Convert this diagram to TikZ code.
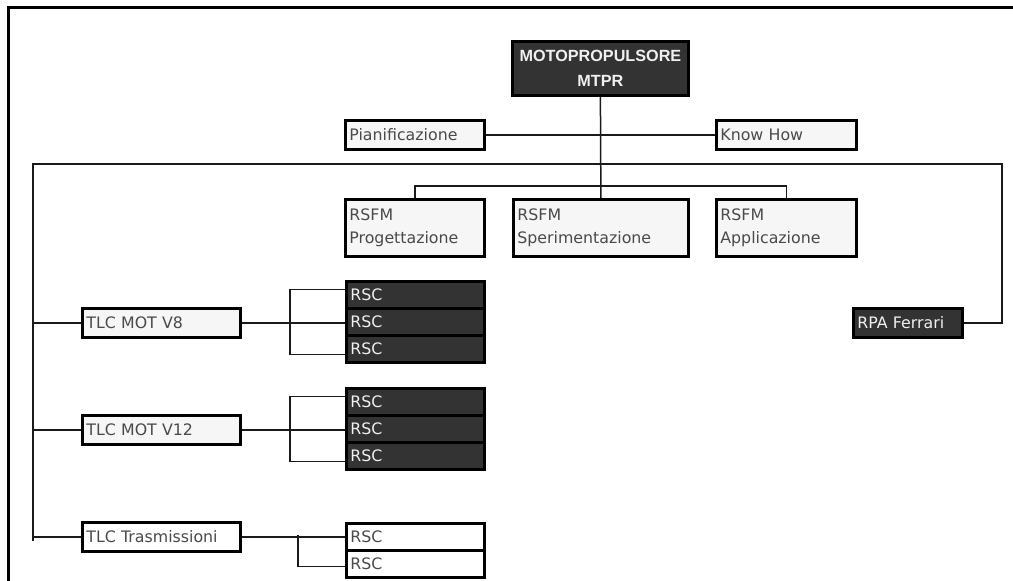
\documentclass[tikz,border=0pt]{standalone}
\usepackage{fontspec}
\setmainfont{DejaVu Sans}
\newfontfamily\headfont{Liberation Sans}
\definecolor{boxfill}{HTML}{F6F6F6}
\definecolor{boxtext}{HTML}{4A4A4A}
\definecolor{darkfill}{HTML}{333333}
\definecolor{darktext}{HTML}{F0F0F0}
\definecolor{linecol}{HTML}{1A1A1A}
\begin{document}
\begin{tikzpicture}[x=1pt,y=-1pt,
  box/.style={draw=black, line width=2.8pt, fill=boxfill, text=boxtext,
    anchor=north west, inner xsep=4pt, inner ysep=0pt, align=left,
    font=\fontsize{15.8}{23}\selectfont},
  darkbox/.style={box, fill=darkfill, text=darktext},
  whitebox/.style={box, fill=white},
  link/.style={draw=linecol, line width=1.5pt},
  frame/.style={draw=black, line width=3pt}]
\useasboundingbox (0,0) rectangle (1013,581);

% page frame
\coordinate (fb) at (8,590);
\coordinate (fc) at (8,7);
\coordinate (fr) at (1020,7);
\draw[frame] (fb) -- (fc) -- (fr);

% head of the unit
\node[darkbox, align=center, text width=168pt, minimum height=54pt,
  font=\headfont\bfseries\fontsize{16.2}{25}\selectfont] (top) at (511,40)
  {MOTOPROPULSORE\\MTPR};

% staff boxes
\node[box, text width=131pt, minimum height=29pt] (pian) at (344,119) {Pianificazione};
\node[box, text width=132pt, minimum height=29pt] (know) at (715,119) {Know How};

% RSFM row
\node[box, text width=131pt, minimum height=57pt] (rs1) at (344,198) {RSFM\\Progettazione};
\node[box, text width=167pt, minimum height=57pt] (rs2) at (512,198) {RSFM\\Sperimentazione};
\node[box, text width=132pt, minimum height=57pt] (rs3) at (715,198) {RSFM\\Applicazione};

% TLC boxes
\node[box, text width=150pt, minimum height=29pt] (v8) at (81,307) {TLC MOT V8};
\node[box, text width=150pt, minimum height=29pt] (v12) at (81,414) {TLC MOT V12};
\node[whitebox, text width=150pt, minimum height=29pt] (tr) at (81,521) {TLC Trasmissioni};

% RSC stacks
\node[darkbox, text width=130pt, minimum height=27pt] (a1) at (345,280) {RSC};
\node[darkbox, text width=130pt, minimum height=27pt] (a2) at (345,307) {RSC};
\node[darkbox, text width=130pt, minimum height=27pt] (a3) at (345,334) {RSC};
\node[darkbox, text width=130pt, minimum height=27pt] (b1) at (345,387) {RSC};
\node[darkbox, text width=130pt, minimum height=27pt] (b2) at (345,414) {RSC};
\node[darkbox, text width=130pt, minimum height=27pt] (b3) at (345,441) {RSC};
\node[whitebox, text width=130pt, minimum height=27pt] (c1) at (345,522) {RSC};
\node[whitebox, text width=130pt, minimum height=27pt] (c2) at (345,549) {RSC};

% RPA
\node[darkbox, text width=101pt, minimum height=29pt] (rpa) at (852,307) {RPA Ferrari};

% connectors
\draw[link] (top.south) -- (rs2.north);
\draw[link] (pian.east) -- (know.west);
\draw[link] (rs1.north) -- ++(0,-12) -| (rs3.north);

\coordinate (busR) at (1002,164);
\coordinate (busL) at (33,164);
\coordinate (busEnd) at (33,541);
\draw[link] (rpa.east) -| (busR) -- (busL) -- (busEnd);

\draw[link] (busL |- v8.west) -- (v8.west);
\draw[link] (busL |- v12.west) -- (v12.west);
\draw[link] (busL |- tr.west) -- (tr.west);

% V8 group
\draw[link] (v8.east) -- (v8.east -| a2.west);
\draw[link] ([yshift=5.5pt]a1.west) -- ++(-55,0) |- ([yshift=-5.5pt]a3.west);
% V12 group
\draw[link] (v12.east) -- (v12.east -| b2.west);
\draw[link] ([yshift=5.5pt]b1.west) -- ++(-55,0) |- ([yshift=-5.5pt]b3.west);
% Trasmissioni group
\draw[link] (tr.east) -- (tr.east -| c1.west);
\coordinate (tj) at (298,535);
\draw[link] (tj) |- ([yshift=-2.5pt]c2.west);
\end{tikzpicture}
\end{document}
